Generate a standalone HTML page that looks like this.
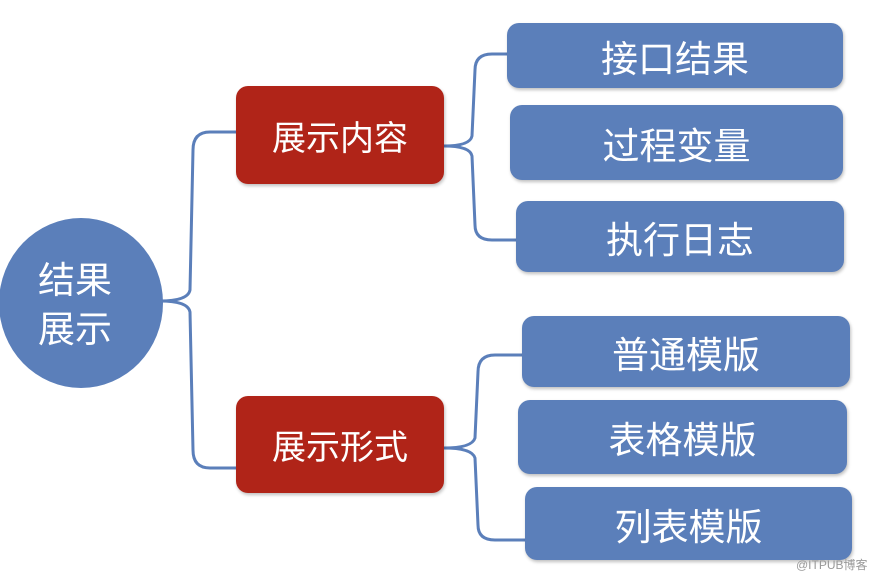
<!DOCTYPE html>
<html><head><meta charset="utf-8"><style>
body{margin:0;width:889px;height:577px;background:#fff;overflow:hidden;position:relative;font-family:"Liberation Sans","Noto Sans CJK SC",sans-serif}
.b{position:absolute;display:flex;align-items:center;justify-content:center;color:#fff;box-shadow:1px 2px 3px rgba(0,0,0,.25)}
.r{background:#b02418;border-radius:12px;font-size:34px}
.u{background:#5b7fba;border-radius:12px;font-size:37px}
</style></head><body>
<svg width="889" height="577" style="position:absolute;left:0;top:0">
<g fill="none" stroke="#5b7fba" stroke-width="3">
<path d="M160 301 Q188 301 190 290 L193 150 Q193 132 210 132 L236 132"/>
<path d="M160 301 Q188 301 190 312 L193 450 Q193 468 210 468 L236 468"/>
<path d="M444 146 Q470 146 472 136 L475 70 Q475 54 492 54 L508 54"/>
<path d="M444 146 Q470 146 472 156 L475 225 Q475 240 492 240 L516 240"/>
<path d="M444 448 Q472 448 475 438 L478 372 Q478 355 495 355 L522 355"/>
<path d="M444 448 Q472 448 475 458 L478 525 Q478 540 495 540 L525 540"/>
</g>
<ellipse cx="81" cy="303" rx="82" ry="85" fill="#5b7fba"/>
</svg>
<div style="position:absolute;left:20px;top:256px;width:110px;text-align:center;color:#fff;font-size:37px;line-height:49px">结果<br>展示</div>
<div class="b r" style="left:236px;top:86px;width:208px;height:98px">展示内容</div>
<div class="b r" style="left:236px;top:396px;width:208px;height:97px">展示形式</div>
<div class="b u" style="left:507px;top:23px;width:336px;height:65px">接口结果</div>
<div class="b u" style="left:510px;top:105px;width:333px;height:75px">过程变量</div>
<div class="b u" style="left:516px;top:201px;width:328px;height:71px">执行日志</div>
<div class="b u" style="left:522px;top:316px;width:328px;height:71px">普通模版</div>
<div class="b u" style="left:518px;top:400px;width:329px;height:74px">表格模版</div>
<div class="b u" style="left:525px;top:487px;width:327px;height:73px">列表模版</div>
<div style="position:absolute;left:796px;top:556px;font-size:12px;color:#999">@ITPUB博客</div>
</body></html>
